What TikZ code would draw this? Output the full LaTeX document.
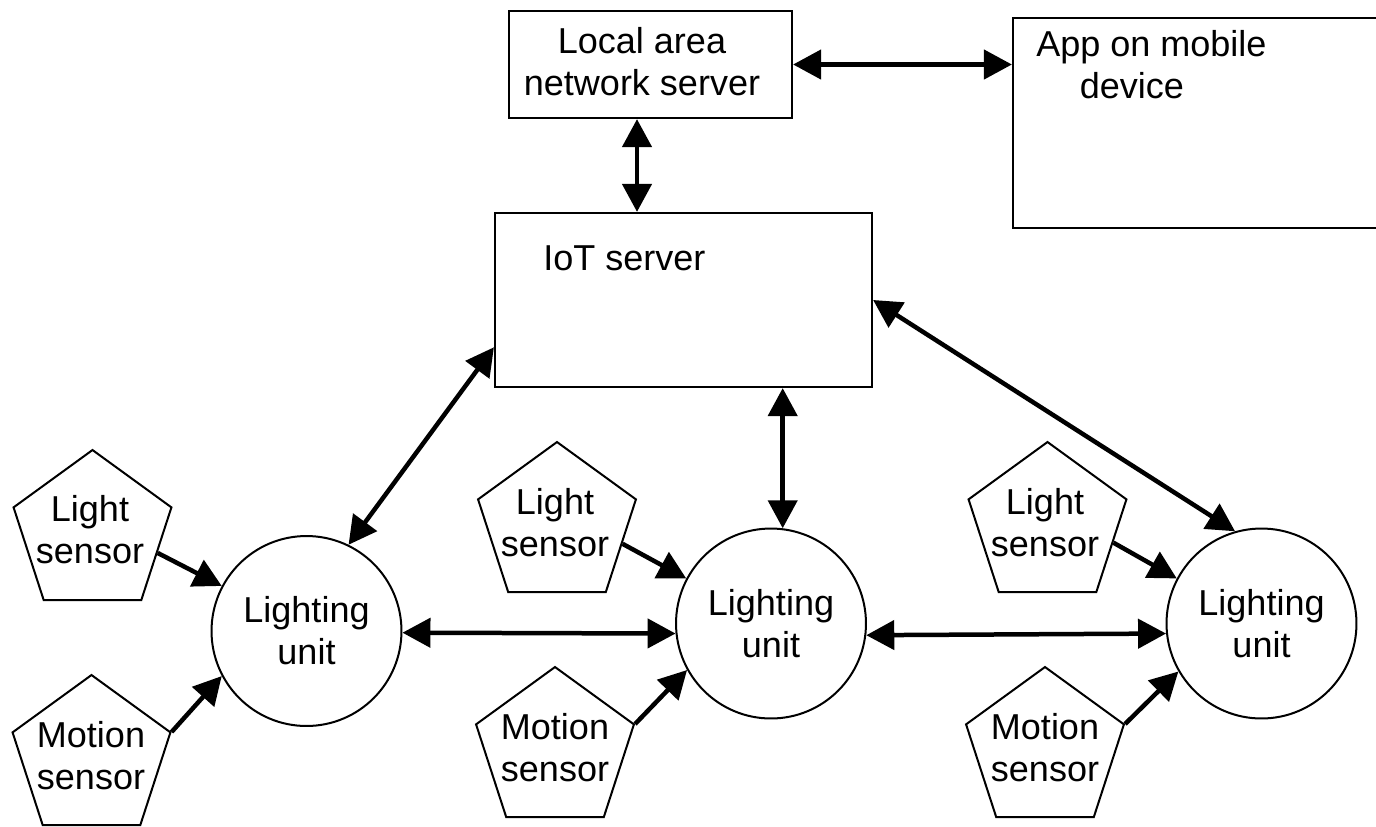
\documentclass[tikz,border=0pt]{standalone}
\usepackage{fontspec}
\setmainfont{Liberation Sans}
\usetikzlibrary{arrows.meta,shapes.geometric}
\begin{document}
\begin{tikzpicture}[x=0.02cm,y=-0.02cm,
  every node/.style={font=\fontsize{20.5}{23.9}\selectfont, inner sep=0pt},
  >={Triangle[length=0.56cm,width=0.58cm]},
  box/.style={draw, line width=0.045cm, rectangle},
  lunit/.style={draw, circle, line width=0.04cm, minimum size=3.8cm, align=center},
  sensor/.style={draw, regular polygon, regular polygon sides=5, line width=0.04cm, minimum size=3.32cm},
  label text/.style={align=center},
  link/.style={line width=0.09cm, <->},
  feed/.style={line width=0.09cm, ->}]
\useasboundingbox (0,0) rectangle (1376,826);
\clip (0,0) rectangle (1376,826);

% servers and app
\node[box, minimum width=5.66cm, minimum height=2.14cm] (lan) at (650.5,64.5) {};
\node[label text] (lantext) at (642,62) {Local area\\network server};
\node[box, minimum width=7.74cm, minimum height=4.2cm] (app) at (1206.5,123) {};
\node[anchor=north west, align=left] (apptext) at ([xshift=0.48cm,yshift=-0.26cm]app.north west) {App on mobile\\\hspace*{0.87cm}device};
\node[box, minimum width=7.54cm, minimum height=3.48cm] (iot) at (683.5,300) {};
\node[anchor=base west] (iottext) at ([xshift=0.98cm,yshift=-1.18cm]iot.north west) {IoT server};

% lighting units
\node[lunit] (lu1) at (306.5,631) {Lighting\\unit};
\node[lunit] (lu2) at (771,623.5) {Lighting\\unit};
\node[lunit] (lu3) at (1261.5,623.5) {Lighting\\unit};

% sensors
\node[sensor] (ls1) at (92.5,533) {};
\node[label text] (ls1text) at (90,529.5) {Light\\sensor};
\node[sensor] (ms1) at (91.5,758) {};
\node[label text] (ms1text) at (91,756) {Motion\\sensor};
\node[sensor] (ls2) at (557,525) {};
\node[label text] (ls2text) at (555,523) {Light\\sensor};
\node[sensor] (ms2) at (555,750) {};
\node[label text] (ms2text) at (555,748) {Motion\\sensor};
\node[sensor] (ls3) at (1047.5,525) {};
\node[label text] (ls3text) at (1045,523) {Light\\sensor};
\node[sensor] (ms3) at (1045,750) {};
\node[label text] (ms3text) at (1045,748) {Motion\\sensor};

% links
\draw[link] (lan.east) -- (lan.east -| app.west);
\draw[link] ([xshift=-0.27cm]lan.south) -- ([xshift=-0.27cm]lan.south |- iot.north);
\draw[link] (iot.194.6) -- (lu1.64.5);
\draw[link] (iot.south -| lu2.83) -- (lu2.83);
\draw[link] (iot.east) -- (lu3.106);
\draw[link] (lu1.-1) -- (lu2.186);
\draw[link] (lu2.-7) -- (lu3.186);

% sensor inputs
\draw[feed] (ls1.-17) -- (lu1.152);
\draw[feed] (ms1.corner 5) -- (lu1.208);
\draw[feed] (ls2.-16) -- (lu2.152);
\draw[feed] (ms2.corner 5) -- (lu2.209);
\draw[feed] (ls3.-15) -- (lu3.152);
\draw[feed] (ms3.corner 5) -- (lu3.210);
\end{tikzpicture}
\end{document}
